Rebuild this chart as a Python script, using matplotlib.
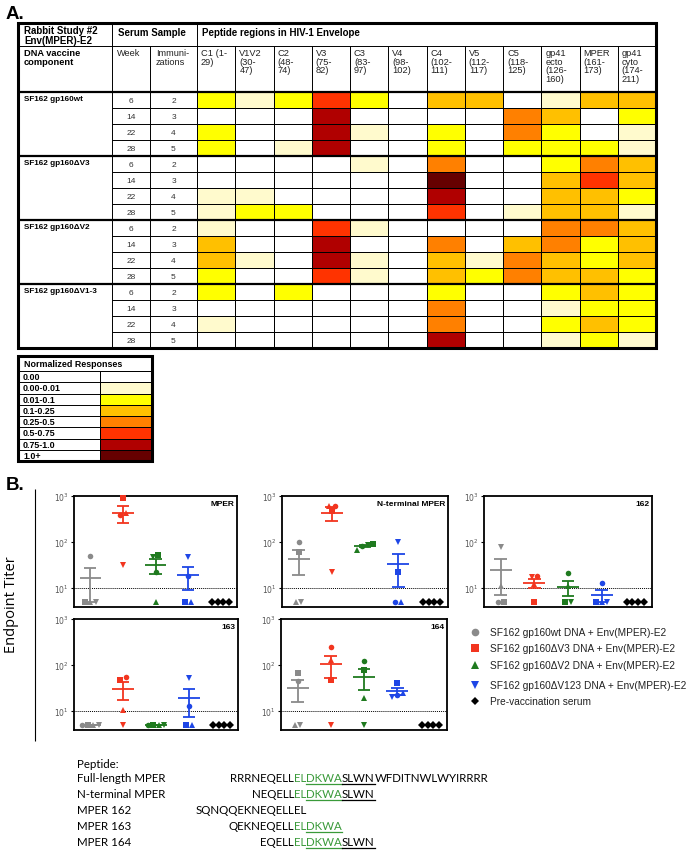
import numpy as np
import matplotlib.pyplot as plt
from matplotlib.colors import ListedColormap, BoundaryNorm

W, H = 689, 853

# ---------------- panel A data ----------------
regions = ['C1 (1-\n29)', 'V1V2\n(30-\n47)', 'C2\n(48-\n74)', 'V3\n(75-\n82)',
           'C3\n(83-\n97)', 'V4\n(98-\n102)', 'C4\n(102-\n111)', 'V5\n(112-\n117)',
           'C5\n(118-\n125)', 'gp41\necto\n(126-\n160)', 'MPER\n(161-\n173)',
           'gp41\ncyto\n(174-\n211)']
constructs = ['SF162 gp160wt', 'SF162 gp160ΔV3', 'SF162 gp160ΔV2', 'SF162 gp160ΔV1-3']
weeks = [6, 14, 22, 28]
immunizations = [2, 3, 4, 5]

# response class per week row (index into response_labels)
wt_response = [[2, 1, 2, 5, 2, 0, 3, 3, 0, 1, 3, 3],
               [0, 0, 0, 6, 0, 0, 0, 0, 4, 3, 0, 2],
               [2, 0, 0, 6, 1, 0, 2, 0, 4, 2, 0, 1],
               [2, 0, 1, 6, 0, 0, 2, 0, 2, 2, 2, 1]]
dv3_response = [[0, 0, 0, 0, 1, 0, 4, 0, 0, 2, 4, 3],
                [0, 0, 0, 0, 0, 0, 7, 0, 0, 3, 5, 3],
                [1, 1, 0, 0, 0, 0, 6, 0, 0, 3, 3, 2],
                [1, 2, 2, 0, 0, 0, 5, 0, 1, 3, 3, 1]]
dv2_response = [[1, 0, 0, 5, 1, 0, 0, 0, 0, 4, 4, 3],
                [3, 0, 0, 6, 0, 0, 4, 0, 3, 4, 2, 3],
                [3, 1, 0, 6, 1, 0, 3, 1, 4, 3, 2, 3],
                [2, 0, 0, 5, 1, 0, 3, 2, 4, 3, 3, 2]]
dv13_response = [[2, 0, 2, 0, 0, 0, 2, 0, 0, 2, 3, 2],
                 [0, 0, 0, 0, 0, 0, 4, 0, 0, 1, 2, 2],
                 [1, 0, 0, 0, 0, 0, 4, 0, 0, 2, 3, 2],
                 [0, 0, 0, 0, 0, 0, 6, 0, 0, 1, 2, 1]]

response_labels = ['0.00', '0.00-0.01', '0.01-0.1', '0.1-0.25', '0.25-0.5',
                   '0.5-0.75', '0.75-1.0', '1.0+']
response_colors = ['#ffffff', '#fffacd', '#ffff00', '#ffc000', '#ff8000',
                   '#ff3300', '#b00000', '#660000']

# ---------------- panel B data ----------------
vaccine_groups = ['SF162 gp160wt DNA + Env(MPER)-E2',
                  'SF162 gp160ΔV3 DNA + Env(MPER)-E2',
                  'SF162 gp160ΔV2 DNA + Env(MPER)-E2',
                  'SF162 gp160ΔV123 DNA + Env(MPER)-E2',
                  'Pre-vaccination serum']
group_colors = ['#8a8a8a', '#f2351f', '#1f7a1f', '#1e46e6', '#000000']
legend_markers = ['o', 's', '^', 'v', 'D']
rabbit_markers = ['o', 's', '^', 'v']   # one symbol per rabbit

# endpoint titers per group, rabbits in rabbit_markers order
titer_mper = [[50, 5, 5, 5], [380, 900, 430, 32], [22, 52, 5, 48],
              [18, 5, 5, 47], [5, 5, 5, 5]]
titer_nterm = [[100, 61, 5, 5], [620, 470, 600, 22], [80, 90, 68, 85],
               [5, 22, 5, 100], [5, 5, 5, 5]]
titer_162 = [[5, 5, 11, 78], [18, 5, 12, 17], [21, 5, 11, 5],
             [13, 5, 5, 5], [5, 5, 5, 5]]
titer_163 = [[5, 5, 5, 5], [56, 48, 10.5, 5], [5, 5, 5, 5],
             [13, 5, 5, 53], [5, 5, 5, 5]]
titer_164 = [[46, 68, 5, 5], [243, 48, 126, 5], [120, 76, 19, 5],
             [22, 41, 24, 20], [5, 5, 5, 5]]

peptide_names = ['Full-length MPER', 'N-terminal MPER', 'MPER 162', 'MPER 163', 'MPER 164']
GREEN = '#3a9a3a'
peptide_segments = [
    [('RRRNEQELL', 'k', False), ('EL', GREEN, False), ('DKWA', GREEN, True),
     ('SLWN', 'k', True), ('WFDITNWLWYIRRRR', 'k', False)],
    [('NEQELL', 'k', False), ('EL', GREEN, False), ('DKWA', GREEN, True),
     ('SLWN', 'k', True)],
    [('SQNQQEKNEQELL', 'k', False), ('EL', 'k', False)],
    [('QEKNEQELL', 'k', False), ('EL', GREEN, False), ('DKWA', GREEN, True)],
    [('EQELL', 'k', False), ('EL', GREEN, False), ('DKWA', GREEN, True),
     ('SLWN', 'k', True)],
]

plt.rcParams['font.family'] = ['Liberation Sans', 'DejaVu Sans']

fig = plt.figure(figsize=(W / 100, H / 100), dpi=100)
ax0 = fig.add_axes([0, 0, 1, 1])
ax0.set_xlim(0, W)
ax0.set_ylim(H, 0)
ax0.axis('off')

# ---------------- table A ----------------
tx0, tx1 = 18, 656
col_dna, col_week, col_imm = 112, 150, 197
ty0, ty1, ty2 = 24, 47, 93
row_h = 16
n_rows = 16
x_edges = np.linspace(col_imm, tx1, len(regions) + 1)
y_edges = ty2 + row_h * np.arange(n_rows + 1)
ty_end = y_edges[-1]

levels = np.array(wt_response + dv3_response + dv2_response + dv13_response)
cmap = ListedColormap(response_colors)
norm = BoundaryNorm(np.arange(-0.5, len(response_colors)), cmap.N)
ax0.pcolormesh(x_edges, y_edges, levels, cmap=cmap, norm=norm,
               edgecolors='black', linewidth=0.7)

thin, thick = 0.7, 1.6
ax0.hlines(y_edges[1:-1], col_dna, tx1, color='black', lw=thin)
for k in range(1, len(constructs)):
    ax0.hlines(y_edges[4 * k], tx0, tx1, color='black', lw=thick)
ax0.hlines(ty1, tx0, tx1, color='black', lw=thin)
ax0.hlines(ty2, tx0, tx1, color='black', lw=thick)
ax0.vlines([col_dna, col_imm], ty0, ty_end, color='black', lw=thin)
ax0.vlines(col_week, ty1, ty_end, color='black', lw=thin)
ax0.vlines(x_edges[1:-1], ty1, ty_end, color='black', lw=thin)
ax0.add_patch(plt.Rectangle((tx0, ty0), tx1 - tx0, ty_end - ty0, fill=False,
                            lw=2.2, edgecolor='black', zorder=4))

hfs = 6.4
ax0.text(24, 26, 'Rabbit Study #2\nEnv(MPER)-E2', fontsize=7, weight='bold',
         va='top', linespacing=0.95)
ax0.text(118, 33, 'Serum Sample', fontsize=7, weight='bold', va='center')
ax0.text(202, 33, 'Peptide regions in HIV-1 Envelope', fontsize=7,
         weight='bold', va='center')
ax0.text(24, 49, 'DNA vaccine\ncomponent', fontsize=6.7, weight='bold', va='top',
         linespacing=0.95)
ax0.text(117, 49, 'Week', fontsize=6.6, va='top', color='#222222')
ax0.text(156, 49, 'Immuni-\nzations', fontsize=6.6, va='top', color='#222222',
         linespacing=0.95)
for i, lab in enumerate(regions):
    ax0.text(x_edges[i] + 4, 49, lab, fontsize=6.7, va='top', linespacing=0.95,
             color='#222222')

for g, name in enumerate(constructs):
    ax0.text(24, y_edges[4 * g] + 3, name, fontsize=5.9, weight='bold', va='top')
    for r in range(4):
        yc = (y_edges[4 * g + r] + y_edges[4 * g + r + 1]) / 2
        ax0.text((col_dna + col_week) / 2, yc, str(weeks[r]), fontsize=6,
                 ha='center', va='center', color='#333333')
        ax0.text((col_week + col_imm) / 2, yc, str(immunizations[r]), fontsize=6,
                 ha='center', va='center', color='#333333')

# legend table
lx0, lx1, ldiv = 18, 152, 100
ly0, ly1 = 357, 372
l_edges = np.linspace(ly1, 462, len(response_labels) + 1)
ax0.pcolormesh([ldiv, lx1], l_edges, np.arange(len(response_labels))[:, None],
               cmap=cmap, norm=norm, edgecolors='black', linewidth=0.7)
ax0.hlines(l_edges[:-1], lx0, lx1, color='black', lw=thin)
ax0.vlines(ldiv, ly1, l_edges[-1], color='black', lw=thin)
ax0.add_patch(plt.Rectangle((lx0, ly0), lx1 - lx0, l_edges[-1] - ly0, fill=False,
                            lw=2.2, edgecolor='black', zorder=4))
ax0.text(24, (ly0 + ly1) / 2, 'Normalized Responses', fontsize=hfs, weight='bold',
         va='center')
for i, lab in enumerate(response_labels):
    ax0.text(23, (l_edges[i] + l_edges[i + 1]) / 2, lab, fontsize=hfs, weight='bold',
             va='center')

ax0.text(6, 14, 'A.', fontsize=13.5, weight='bold', va='center')
ax0.text(6, 486, 'B.', fontsize=13.5, weight='bold', va='center')

# ---------------- panel B ----------------
ax0.vlines(35, 490, 742, color='black', lw=0.8)
ax0.text(12, 605, 'Endpoint Titer', rotation=90, fontsize=10.5, ha='center',
         va='center', family='Open Sans')


def swarm_offsets(vals, step=0.17, tol=0.1):
    logs = np.log10(vals)
    order = np.argsort(logs, kind='stable')
    offsets = np.zeros(len(vals))
    clusters = []
    for i in order:
        if clusters and logs[i] - logs[clusters[-1][-1]] < tol:
            clusters[-1].append(i)
        else:
            clusters.append([i])
    for c in clusters:
        for k, i in enumerate(c):
            offsets[i] = (k - (len(c) - 1) / 2) * step
    return offsets


def titer_panel(px0, px1, py0, py1, title, data):
    ax = fig.add_axes([px0 / W, 1 - py1 / H, (px1 - px0) / W, (py1 - py0) / H])
    ax.set_yscale('log')
    for g, vals in enumerate(data):
        vals = np.asarray(vals, float)
        xg = g + 1
        col = group_colors[g]
        for v, dx, m in zip(vals, swarm_offsets(vals), rabbit_markers):
            ax.plot(xg + dx, v, marker='D' if g == 4 else m, ms=3.6 if g == 4 else 4,
                    color=col, mew=0, ls='none', zorder=3, clip_on=False)
        mean = vals.mean()
        sem = vals.std(ddof=1) / np.sqrt(len(vals))
        ax.hlines(mean, xg - 0.33, xg + 0.33, color=col, lw=1.3, zorder=2)
        ax.vlines(xg, mean - sem, mean + sem, color=col, lw=1.3, zorder=2)
        ax.hlines([mean - sem, mean + sem], xg - 0.19, xg + 0.19, color=col,
                  lw=1.3, zorder=2)
    ax.axhline(10, ls=(0, (1, 1)), lw=0.7, color='black', zorder=1)
    ax.set_xlim(0.5, 5.5)
    ax.set_ylim(3.86, 1000)
    ax.set_xticks([])
    ax.set_yticks([10, 100, 1000])
    ax.set_yticklabels(['$10^1$', '$10^2$', '$10^3$'])
    ax.yaxis.set_minor_locator(plt.NullLocator())
    ax.tick_params(axis='y', length=2.5, width=0.8, labelsize=5.5, pad=1,
                   labelcolor='#555555')
    for s in ax.spines.values():
        s.set_linewidth(1.3)
    ax.text(0.985, 0.96, title, transform=ax.transAxes, ha='right', va='top',
            fontsize=6, weight='bold')
    return ax


titer_panel(74, 237, 497, 608, 'MPER', titer_mper)
titer_panel(282, 448, 497, 608, 'N-terminal MPER', titer_nterm)
titer_panel(484, 652, 497, 608, '162', titer_162)
titer_panel(74, 238, 620, 731, '163', titer_163)
titer_panel(281, 447, 620, 731, '164', titer_164)

legend_rows = [633, 649, 666, 686, 702]
for name, col, m, yl in zip(vaccine_groups, group_colors, legend_markers, legend_rows):
    ax0.plot(475, yl, marker=m, ms=5.5 if m != 'D' else 4.5, color=col, mew=0, ls='none')
    ax0.text(490, yl, name, fontsize=7.3, va='center', color='#222222')

# ---------------- peptide sequences ----------------
pfs = 8.3
pfam = 'Lato'
anchor = 294
ax0.text(77, 764, 'Peptide:', fontsize=pfs, va='center', family=pfam)
renderer = fig.canvas.get_renderer()
for k, (name, segs) in enumerate(zip(peptide_names, peptide_segments)):
    yc = 779 + 16 * k
    ax0.text(77, yc, name, fontsize=pfs, va='center', family=pfam)
    first, col, ul = segs[0]
    ax0.text(anchor, yc, first, fontsize=pfs, va='center', ha='right',
             family=pfam, color=col)
    x = anchor
    for txt, col, ul in segs[1:]:
        t = ax0.text(x, yc, txt, fontsize=pfs, va='center', ha='left',
                     family=pfam, color=col)
        w = t.get_window_extent(renderer).width
        if ul:
            ax0.plot([x, x + w], [yc + 6, yc + 6], color=col, lw=0.9)
        x += w

fig.savefig('out.png', dpi=100)
